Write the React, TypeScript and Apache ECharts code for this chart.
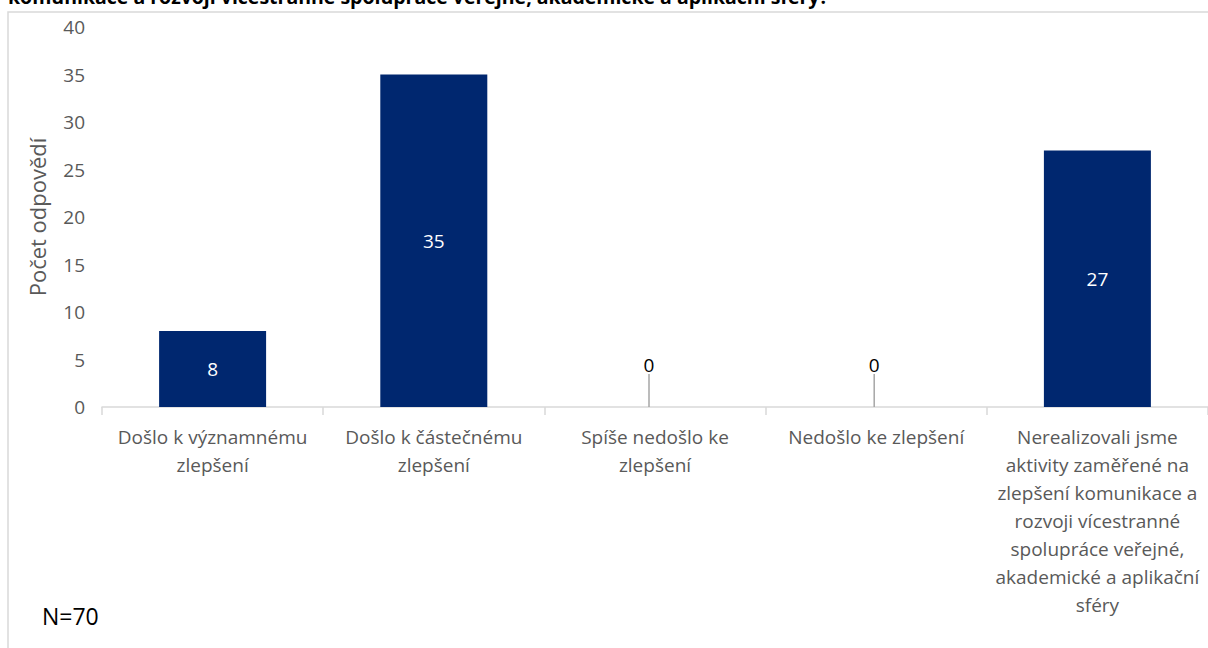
import React, { useEffect, useRef } from "react";
import * as echarts from "echarts";

const titleText = "komunikace a rozvoji vícestranné spolupráce veřejné, akademické a aplikační sféry?";
const categories = [
  "Došlo k významnému\nzlepšení",
  "Došlo k částečnému\nzlepšení",
  "Spíše nedošlo ke\nzlepšení",
  "Nedošlo ke zlepšení",
  "Nerealizovali jsme\naktivity zaměřené na\nzlepšení komunikace a\nrozvoji vícestranné\nspolupráce veřejné,\nakademické a aplikační\nsféry",
];
const values = [8, 35, 0, 0, 27];
const yAxisName = "Počet odpovědí";
const noteText = "N=70";

const FONT = "'Open Sans', 'Noto Sans', sans-serif";

export default function App() {
  const ref = useRef<HTMLDivElement>(null);
  useEffect(() => {
    if (!ref.current) return;
    const chart = echarts.init(ref.current, undefined, { renderer: "svg" });
    chart.setOption({
      animation: false,
      backgroundColor: "#ffffff",
      graphic: [
        {
          type: "rect",
          shape: { x: 8, y: 12, width: 1400, height: 800 },
          style: { fill: "none", stroke: "#d9d9d9", lineWidth: 1.5 },
          silent: true,
        },
        {
          type: "text",
          left: 8,
          top: -14,
          style: { text: titleText, fontSize: 19.5, fontWeight: "bold", fill: "#000", fontFamily: FONT },
        },
        {
          type: "text",
          left: 42,
          top: 604,
          style: { text: noteText, fontSize: 23, fill: "#000", fontFamily: FONT },
        },
      ],
      grid: { left: 102, right: 0, top: 27, bottom: 241, containLabel: false },
      xAxis: {
        type: "category",
        data: categories,
        axisLine: { show: true, lineStyle: { color: "#d9d9d9", width: 1.5 } },
        axisTick: { show: true, length: 8, lineStyle: { color: "#d9d9d9", width: 1.5 } },
        axisLabel: {
          color: "#595959",
          fontSize: 19,
          lineHeight: 28,
          margin: 16,
          fontFamily: FONT,
          interval: 0,
        },
      },
      yAxis: {
        type: "value",
        min: 0,
        max: 40,
        interval: 5,
        name: yAxisName,
        nameLocation: "middle",
        nameGap: 54,
        nameTextStyle: { color: "#595959", fontSize: 22, fontFamily: FONT },
        axisLine: { show: false },
        axisTick: { show: false },
        splitLine: { show: false },
        axisLabel: { color: "#595959", fontSize: 19, margin: 17, fontFamily: FONT },
      },
      series: [
        {
          type: "bar",
          data: values.map((v) => ({
            value: v,
            label:
              v === 0
                ? { show: true, position: "top", color: "#000", fontSize: 19 }
                : { show: true, position: "inside", color: "#ffffff", fontSize: 19 },
          })),
          barWidth: 107,
          itemStyle: { color: "#00276F" },
          label: { fontFamily: FONT },
          labelLine: { show: true, lineStyle: { color: "#a6a6a6", width: 1.5 } },
          labelLayout: (params: any) => {
            if (values[params.dataIndex] === 0) {
              return { dx: params.dataIndex === 2 ? -6 : -2, dy: -28 };
            }
            return {};
          },
        },
      ],
    });
    return () => chart.dispose();
  }, []);
  return <div ref={ref} style={{ position: "fixed", left: 0, top: 0, width: 1208, height: 648 }} />;
}
